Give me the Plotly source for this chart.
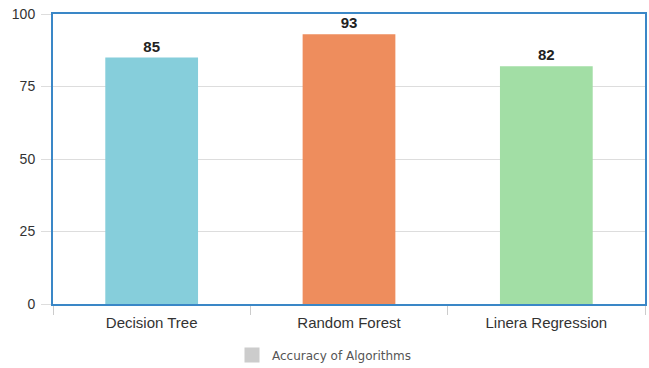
import plotly.graph_objects as go

# Model accuracy scores
algorithms = ["Decision Tree", "Random Forest", "Linera Regression"]
accuracy = [85, 93, 82]
bar_colors = ["#86CEDB", "#EE8D5D", "#A2DEA5"]
y_ticks = [0, 25, 50, 75, 100]
legend_label = "Accuracy of Algorithms"

fig = go.Figure()

fig.add_trace(go.Bar(
    x=algorithms,
    y=accuracy,
    marker=dict(color=bar_colors, line=dict(width=0)),
    width=0.47,
    text=[str(v) for v in accuracy],
    textposition="outside",
    textfont=dict(family="Liberation Sans, Arial, sans-serif", size=15, color="#222222"),
    texttemplate="<b>%{text}</b>",
    cliponaxis=False,
    showlegend=False,
    hoverinfo="skip",
))

# Legend entry for the series
fig.add_trace(go.Scatter(
    x=[None], y=[None],
    mode="markers",
    marker=dict(symbol="square", size=15, color="#CCCCCC"),
    name=legend_label,
    showlegend=True,
))

fig.update_layout(
    width=649, height=368,
    margin=dict(l=53, r=4, t=14, b=64, autoexpand=False),
    paper_bgcolor="white",
    plot_bgcolor="white",
    font=dict(family="Liberation Sans, Arial, sans-serif", size=14, color="#333333"),
    legend=dict(
        orientation="h",
        xref="container", yref="container",
        x=0.5, xanchor="center",
        y=0.035, yanchor="middle",
        font=dict(family="DejaVu Sans, sans-serif", size=12, color="#555555"),
        itemwidth=30,
    ),
)

fig.update_xaxes(
    type="category",
    tickson="boundaries",
    ticks="outside",
    ticklen=9,
    tickcolor="#CCCCCC",
    showline=True,
    linecolor="#3A87C7",
    linewidth=2,
    mirror=True,
    showgrid=False,
    ticklabelstandoff=4,
    tickfont=dict(size=15, color="#333333"),
    automargin=False,
)

fig.update_yaxes(
    range=[0, 100],
    tickvals=y_ticks,
    ticks="outside",
    ticklen=10,
    tickcolor="#DDDDDD",
    showgrid=True,
    gridcolor="#DDDDDD",
    gridwidth=1,
    showline=True,
    linecolor="#3A87C7",
    linewidth=2,
    mirror=True,
    zeroline=False,
    ticklabelstandoff=3,
    tickfont=dict(size=14, color="#333333"),
    automargin=False,
)

fig.write_html("out.html")
